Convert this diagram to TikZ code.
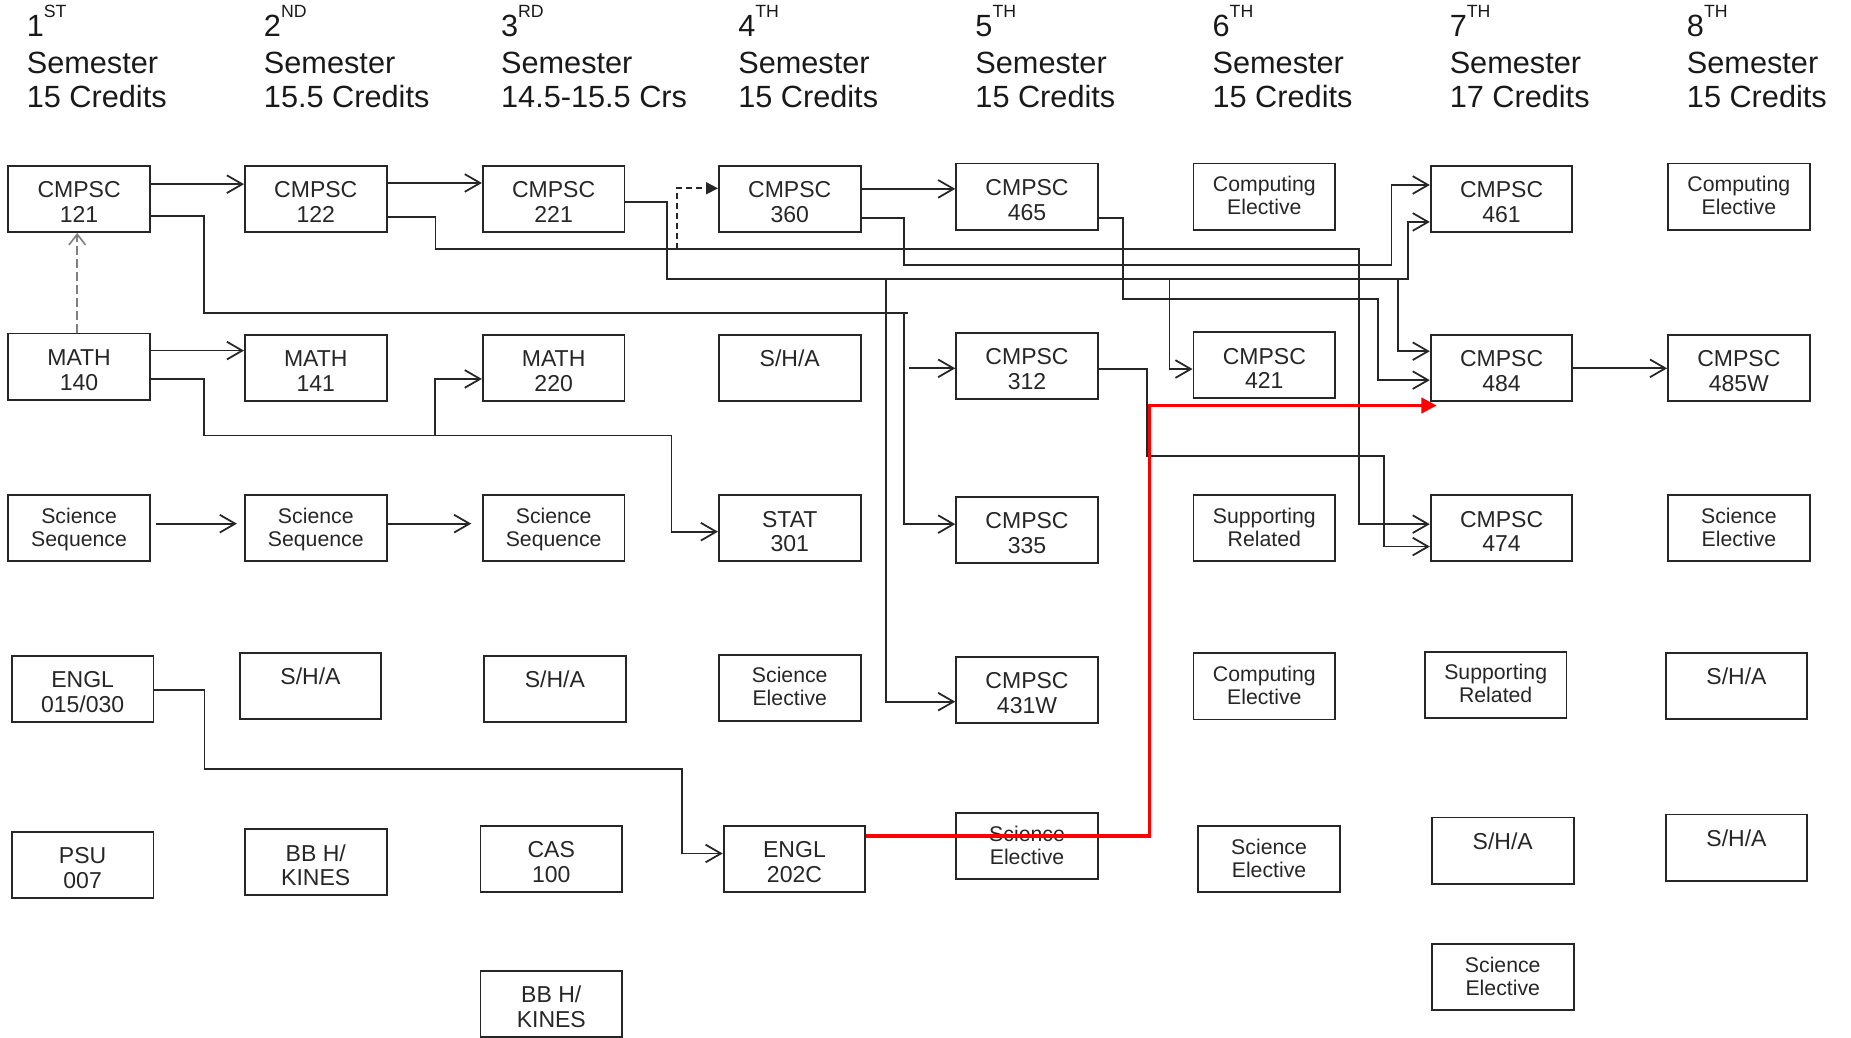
\documentclass[tikz,border=0pt]{standalone}
\usepackage{fontspec}
\setmainfont{Liberation Sans}
\usetikzlibrary{arrows.meta}
\begin{document}
\begin{tikzpicture}[x=1pt,y=-1pt,
  box/.style={draw=black!85, line width=1.6pt, minimum width=120pt, minimum height=56pt, inner sep=0pt, align=center, text=black!85, font=\fontsize{19.5}{21}\selectfont, text height=40pt, text depth=0pt},
  sbox/.style={box, font=\fontsize{18}{19.5}\selectfont, text height=35pt, text depth=4pt},
  hd/.style={anchor=base west, inner sep=0pt, font=\fontsize{26}{30}\selectfont, text=black!90},
  ln/.style={line width=1.5pt, draw=black!85},
  ar/.style={ln, -{Straight Barb[length=13pt,width=15pt]}},
  redar/.style={line width=3pt, draw=red, -{Triangle[length=13pt,width=13pt]}},
]
\useasboundingbox (0,0) rectangle (1568,879);

% headers
\foreach \hidx/\hnum/\hsup/\hcred in {0/1/ST/15 Credits, 1/2/ND/15.5 Credits, 2/3/RD/14.5-15.5 Crs, 3/4/TH/15 Credits, 4/5/TH/15 Credits, 5/6/TH/15 Credits, 6/7/TH/17 Credits, 7/8/TH/15 Credits}{
  \node[hd] (hn\hnum) at ({22.5+200.9*\hidx},31) {\hnum\raisebox{16pt}{\fontsize{15}{15}\selectfont\hsup}};
  \node[hd] (hs\hnum) at ({22.5+200.9*\hidx},62) {Semester};
  \node[hd] (hc\hnum) at ({22.5+200.9*\hidx},91) {\hcred};
}

% row 1
\node[box] (c121) at (67,168.5) {CMPSC\\121};
\node[box] (c122) at (267.5,168.5) {CMPSC\\122};
\node[box] (c221) at (469,168.5) {CMPSC\\221};
\node[box] (c360) at (669,168.5) {CMPSC\\360};
\node[box] (c465) at (870,166.5) {CMPSC\\465};
\node[sbox] (ce6) at (1071,166.5) {Computing\\Elective};
\node[box] (c461) at (1272,168.5) {CMPSC\\461};
\node[sbox] (ce8) at (1473,166.5) {Computing\\Elective};
% row 2
\node[box] (m140) at (67,310.5) {MATH\\140};
\node[box] (m141) at (267.5,311.5) {MATH\\141};
\node[box] (m220) at (469,311.5) {MATH\\220};
\node[box] (sha4) at (669,311.5) {S/H/A\\~};
\node[box] (c312) at (870,310) {CMPSC\\312};
\node[box] (c421) at (1071,309.5) {CMPSC\\421};
\node[box] (c484) at (1272,311.5) {CMPSC\\484};
\node[box] (c485) at (1473,311.5) {CMPSC\\485W};
% row 3
\node[sbox] (ss1) at (67,447.5) {Science\\Sequence};
\node[sbox] (ss2) at (267.5,447.5) {Science\\Sequence};
\node[sbox] (ss3) at (469,447.5) {Science\\Sequence};
\node[box] (st301) at (669,447.5) {STAT\\301};
\node[box] (c335) at (870,449) {CMPSC\\335};
\node[sbox] (sr6) at (1071,447.5) {Supporting\\Related};
\node[box] (c474) at (1272,447.5) {CMPSC\\474};
\node[sbox] (se8) at (1473,447.5) {Science\\Elective};
% row 4
\node[box] (engl1) at (70,583.5) {ENGL\\015/030};
\node[box] (sha2) at (263,581) {S/H/A\\~};
\node[box] (sha3) at (470,583.5) {S/H/A\\~};
\node[sbox] (se4) at (669,582.5) {Science\\Elective};
\node[box] (c431) at (870,584.5) {CMPSC\\431W};
\node[sbox] (ce6b) at (1071,581.5) {Computing\\Elective};
\node[sbox] (sr7) at (1267,580) {Supporting\\Related};
\node[box] (sha8) at (1471,581) {S/H/A\\~};
% row 5
\node[box] (psu) at (70,732.5) {PSU\\007};
\node[box] (bb2) at (267.5,730.5) {BB H/\\KINES};
\node[box] (cas) at (467,727.5) {CAS\\100};
\node[box] (e202) at (673,727.5) {ENGL\\202C};
\node[sbox] (se5) at (870,716.5) {Science\\Elective};
\node[sbox] (se6) at (1075,727.5) {Science\\Elective};
\node[box] (sha7) at (1273,720.5) {S/H/A\\~};
\node[box] (sha8b) at (1471,718) {S/H/A\\~};
% row 6
\node[box] (bb3) at (467,850.5) {BB H/\\KINES};
\node[sbox] (se7) at (1273,827.5) {Science\\Elective};

% junction coordinates
\coordinate (j121) at (769,265);
\coordinate (b335) at (765.5,265);
\coordinate (b312) at (770,312);
\coordinate (d360) at (573.3,211);
\coordinate (b431) at (750.6,236.3);
\coordinate (b421) at (990.7,236.3);
\coordinate (b484) at (1184,236.3);
\coordinate (b220) at (368.6,369);
\coordinate (redend) at (1217,343.5);

% straight arrows
\draw[ar] (c121.east|-0,156) -- (c122.west|-0,156);
\draw[ar] (c122.east|-0,155) -- (c221.west|-0,155);
\draw[ar] (c360.east|-0,160) -- (c465.west|-0,160);
\draw[ar] (m140.east|-0,297) -- (m141.west|-0,297);
\draw[ar, shorten <=4pt, shorten >=6pt] (ss1.east|-0,443.6) -- (ss2.west|-0,443.6);
\draw[ar, shorten >=9pt] (ss2.east|-0,443.6) -- (ss3.west|-0,443.6);
\draw[ar] (c484.east|-0,312) -- (c485.west|-0,312);

% dashed co-requisites
\draw[line width=1.4pt, draw=black!50, dash pattern=on 7pt off 4pt, -{Straight Barb[length=9pt,width=14pt]}] (m140.north -| 65.4,0) -- (c121.south -| 65.4,0);
\draw[ln, dash pattern=on 5pt off 3.5pt, -{Triangle[length=10pt,width=10pt]}] (d360) -- (573.3,159.5) -- (c360.west|-0,159.5);

% CMPSC 121
\draw[ln] (c121.east|-0,183) -- (173,183) -- (173,265) -- (j121);
\draw[ar] (b335) -- (765.5,444) -- (c335.west|-0,444);
\draw[ar] (b312) -- (c312.west|-0,312);
% CMPSC 122
\draw[ar] (c122.east|-0,184) -- (369,184) -- (369,211) -- (1151.5,211) -- (1151.5,444) -- (c474.west|-0,444);
% CMPSC 221
\draw[ar] (c221.east|-0,171) -- (565,171) -- (565,236.3) -- (1193,236.3) -- (1193,188) -- (c461.west|-0,188);
\draw[ar] (b431) -- (750.6,594.4) -- (c431.west|-0,594.4);
\draw[ar] (b421) -- (990.7,312.6) -- (c421.west|-0,312.6);
\draw[ar] (b484) -- (1184,297.5) -- (c484.west|-0,297.5);
% CMPSC 360
\draw[ar] (c360.east|-0,184.4) -- (765.5,184.4) -- (765.5,224.5) -- (1178.7,224.5) -- (1178.7,156.7) -- (c461.west|-0,156.7);
% CMPSC 465
\draw[ar] (c465.east|-0,184.4) -- (951.2,184.4) -- (951.2,253.5) -- (1167,253.5) -- (1167,322) -- (c484.west|-0,322);
% CMPSC 312
\draw[ar] (c312.east|-0,312.6) -- (971.3,312.6) -- (971.3,386.3) -- (1172.7,386.3) -- (1172.7,463) -- (c474.west|-0,463);
% MATH 140
\draw[ar] (m140.east|-0,321) -- (173,321) -- (173,369) -- (568.8,369) -- (568.8,450.4) -- (st301.west|-0,450.4);
\draw[ar] (b220) -- (368.6,321) -- (m220.west|-0,321);
% ENGL 015/030
\draw[ar] (engl1.east|-0,584.8) -- (173.2,584.8) -- (173.2,651.5) -- (578,651.5) -- (578,723) -- (e202.west|-0,723);
% red
\draw[redar] (e202.east|-0,708) -- (973.6,708) -- (973.6,343.5) -- (redend);
\end{tikzpicture}
\end{document}
